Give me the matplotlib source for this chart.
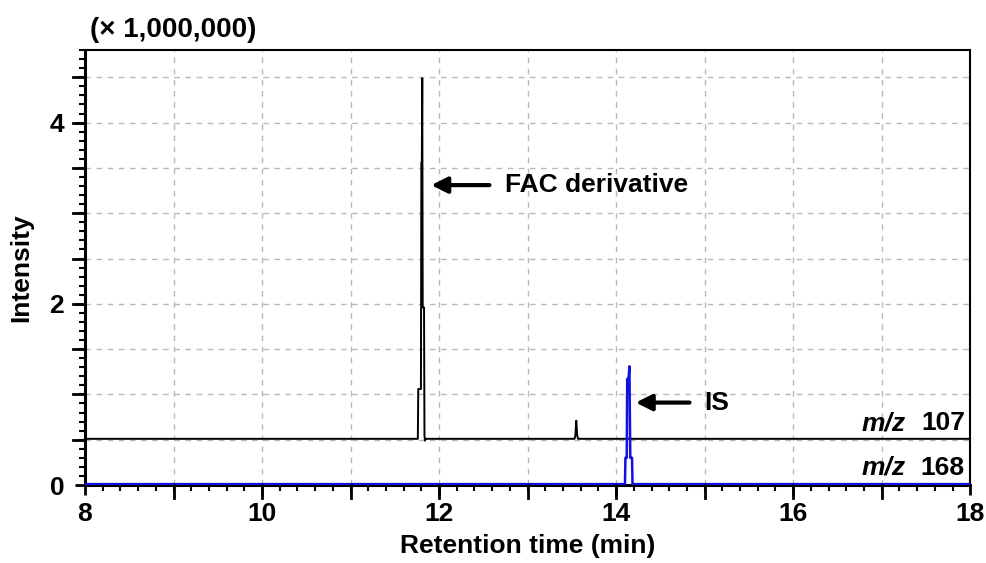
import numpy as np
import matplotlib
matplotlib.use("Agg")
from matplotlib import pyplot as plt
from matplotlib.ticker import MultipleLocator

plt.rcParams['font.family'] = ['Liberation Sans', 'DejaVu Sans']
plt.rcParams['font.weight'] = 'bold'

# m/z 107 trace (black), retention time in min, intensity in 1e6
black_t = [8.0, 11.76, 11.765, 11.77, 11.795, 11.80, 11.805, 11.81, 11.815, 11.83, 11.835, 11.84, 11.85,
           13.53, 13.54, 13.55, 13.56, 13.57, 18.0]
black_i = [0.51, 0.51, 1.06, 1.06, 1.06, 3.56, 3.56, 4.49, 1.96, 1.96, 0.55, 0.49, 0.51,
           0.51, 0.55, 0.71, 0.55, 0.51, 0.51]

# m/z 168 trace (blue)
blue_t = [8.0, 14.10, 14.105, 14.12, 14.125, 14.14, 14.15, 14.16, 14.165, 14.18, 14.185, 18.0]
blue_i = [0.01, 0.01, 0.30, 0.30, 1.17, 1.17, 1.31, 0.30, 0.30, 0.30, 0.01, 0.01]

trace_labels = ['107', '168']
trace_label_y = [0.68, 0.19]

fig = plt.figure(figsize=(9.87, 5.63), dpi=100)
ax = fig.add_axes([0.0861, 0.1385, 0.8969, 0.7725])

ax.plot(black_t, black_i, color='black', lw=1.4, zorder=3)
ax.plot(blue_t, blue_i, color='#1010e0', lw=1.8, zorder=3)

ax.set_xlim(8, 18)
ax.set_ylim(0, 4.8)
ax.xaxis.set_major_locator(MultipleLocator(2))
ax.xaxis.set_minor_locator(MultipleLocator(0.2))
ax.yaxis.set_major_locator(MultipleLocator(2))
ax.yaxis.set_minor_locator(MultipleLocator(0.1))

# grid lines
for gx in np.arange(9, 18, 1):
    ax.axvline(gx, color='#b8b8b8', lw=1, ls=(0, (4, 4)), zorder=1)
for gy in np.arange(0.5, 4.8, 0.5):
    ax.axhline(gy, color='#b8b8b8', lw=1, ls=(0, (4, 4)), zorder=1)

ax.tick_params(axis='both', which='major', direction='out', length=7, width=2, labelsize=19)
ax.tick_params(axis='both', which='minor', direction='out', length=4, width=1.5)
ax.tick_params(axis='x', pad=5)
ax.tick_params(axis='y', pad=8)
for lab in ax.get_xticklabels() + ax.get_yticklabels():
    lab.set_fontweight('bold')

# longer ticks at the gridline positions
for gy in np.arange(0.5, 4.8, 0.5):
    ax.plot([8 - 0.13, 8], [gy, gy], color='black', lw=2, clip_on=False, zorder=4)
for gx in np.arange(9, 18, 1):
    ax.plot([gx, gx], [-0.14, 0], color='black', lw=2, clip_on=False, zorder=4)

for side in ['left', 'bottom']:
    ax.spines[side].set_linewidth(2.2)
for side in ['top', 'right']:
    ax.spines[side].set_linewidth(1.5)

ax.set_xlabel('Retention time (min)', fontsize=19, fontweight='bold', labelpad=6)
ax.set_ylabel('Intensity', fontsize=19, fontweight='bold', labelpad=12)

fig.text(0.091, 0.947, '(\u00d7 1,000,000)', fontsize=20, fontweight='bold', va='center')

ax.annotate('', xy=(11.88, 3.31), xytext=(12.6, 3.31),
            arrowprops=dict(arrowstyle='-|>', color='black', lw=3, mutation_scale=24))
ax.text(12.74, 3.31, 'FAC derivative', fontsize=19, fontweight='bold', va='center')
ax.annotate('', xy=(14.19, 0.91), xytext=(14.86, 0.91),
            arrowprops=dict(arrowstyle='-|>', color='black', lw=3, mutation_scale=24))
ax.text(14.99, 0.91, 'IS', fontsize=19, fontweight='bold', va='center')

for lab, ly in zip(trace_labels, trace_label_y):
    ax.text(17.94, ly, lab, fontsize=19, fontweight='bold', ha='right', va='center')
    ax.text(17.27, ly, 'm/z', fontsize=19, fontweight='bold', fontstyle='italic',
            ha='right', va='center')

fig.savefig('out.png', dpi=100)
